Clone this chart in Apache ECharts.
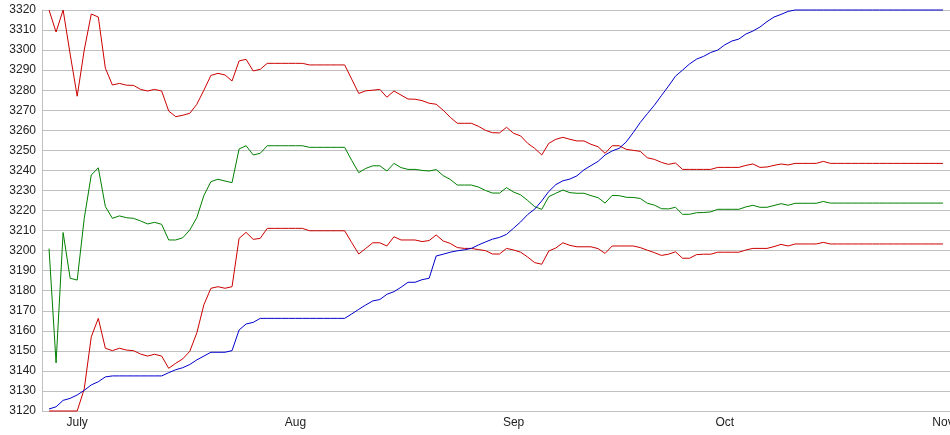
<!DOCTYPE html>
<html>
<head>
<meta charset="utf-8">
<script src="https://cdn.jsdelivr.net/npm/echarts@6/dist/echarts.min.js"></script>
<style>
  html, body { margin: 0; padding: 0; background: #fff; }
  #chart { width: 950px; height: 435px; }
</style>
</head>
<body>
<div id="chart"></div>
<script>
// days counted from July 1 (0); first point is June 27
var firstDay = -4

var monthTicks = [0, 31, 62, 92, 123]
var monthNames = ['July', 'Aug', 'Sep', 'Oct', 'Nov']

var upperRed = [
  3320, 3309, 3320, 3298, 3277, 3300, 3318, 3316.5, 3291, 3282.6,
  3283.4, 3282.5, 3282.4, 3280.4, 3279.6, 3280.4, 3279.6, 3269.6, 3266.8, 3267.5,
  3268.5, 3273, 3280, 3287.4, 3288.4, 3287.6, 3284.6, 3294.6, 3295.4, 3289.6,
  3290.4, 3293.4, 3293.4, 3293.4, 3293.4, 3293.4, 3293.4, 3292.6, 3292.6, 3292.6,
  3292.6, 3292.6, 3292.6, 3285.5, 3278.4, 3279.7, 3280, 3280.4, 3276.5, 3279.6,
  3277.6, 3275.6, 3275.5, 3274.8, 3273.5, 3273, 3270, 3266.5, 3263.5, 3263.5,
  3263.5, 3262, 3260, 3258.8, 3258.7, 3261.5, 3258.5, 3257.2, 3253.5, 3251,
  3247.7, 3253.5, 3255.5, 3256.5, 3255.5, 3254.7, 3254.7, 3253, 3251.8, 3248.5,
  3252.3, 3252.3, 3250.5, 3250, 3249.5, 3246.3, 3245.5, 3244, 3243, 3243.7,
  3240.5, 3240.5, 3240.5, 3240.5, 3240.5, 3241.5, 3241.5, 3241.5, 3241.5, 3242.5,
  3243.2, 3241.5, 3241.7, 3242.5, 3243.2, 3242.7, 3243.5, 3243.5, 3243.5, 3243.5,
  3244.5, 3243.5, 3243.5, 3243.5, 3243.5, 3243.5, 3243.5, 3243.5, 3243.5, 3243.5,
  3243.5, 3243.5, 3243.5, 3243.5, 3243.5, 3243.5, 3243.5, 3243.5
]

var middleGreen = [
  3201, 3144, 3209, 3186.2, 3185.3, 3216, 3237.7, 3241.3, 3222, 3216.1,
  3217.3, 3216.4, 3216.1, 3214.8, 3213.3, 3214.1, 3213.1, 3205.3, 3205.3, 3206.4,
  3210.3, 3216.5, 3227.5, 3234.4, 3235.6, 3234.7, 3233.9, 3250.7, 3252.3, 3247.7,
  3248.5, 3252.3, 3252.3, 3252.3, 3252.3, 3252.3, 3252.3, 3251.5, 3251.5, 3251.5,
  3251.5, 3251.5, 3251.5, 3245, 3238.9, 3241, 3242.3, 3242.3, 3239.7, 3243.5,
  3241.4, 3240.5, 3240.5, 3240, 3239.7, 3240.4, 3237.4, 3235.5, 3232.7, 3232.7,
  3232.7, 3231.7, 3230, 3228.7, 3228.7, 3231.4, 3229.2, 3227.8, 3225, 3221.9,
  3220.6, 3226.9, 3228.6, 3230.2, 3228.9, 3228.6, 3228.6, 3227.4, 3226.4, 3223.7,
  3227.5, 3227.4, 3226.6, 3226.5, 3226, 3223.6, 3222.7, 3220.9, 3220.8, 3221.6,
  3218.1, 3218.1, 3218.9, 3219, 3219.3, 3220.6, 3220.6, 3220.6, 3220.6, 3221.8,
  3222.6, 3221.6, 3221.6, 3222.5, 3223.4, 3222.6, 3223.6, 3223.6, 3223.6, 3223.6,
  3224.5, 3223.7, 3223.7, 3223.7, 3223.7, 3223.7, 3223.7, 3223.7, 3223.7, 3223.7,
  3223.7, 3223.7, 3223.7, 3223.7, 3223.7, 3223.7, 3223.7, 3223.7
]

var lowerRed = [
  3120, 3120, 3120, 3120, 3120, 3131, 3157, 3166.2, 3151.3, 3150.1,
  3151.3, 3150.4, 3150.1, 3148.4, 3147.4, 3148.3, 3147.4, 3141.3, 3143.8, 3146,
  3149.8, 3159, 3173, 3181.2, 3182, 3181.2, 3182, 3206.1, 3209.1, 3205.6,
  3206.1, 3211.1, 3211.1, 3211.1, 3211.1, 3211.1, 3211.1, 3209.9, 3209.9, 3209.9,
  3209.9, 3209.9, 3209.9, 3204, 3198.3, 3201.1, 3203.9, 3203.9, 3202.3, 3206.9,
  3205.3, 3205.3, 3205.3, 3204.5, 3205, 3207.8, 3204.8, 3203.6, 3201.5, 3201.1,
  3201.1, 3200.5, 3200, 3198.3, 3198.3, 3201.1, 3200.3, 3199.2, 3196.8, 3194,
  3193.2, 3199.8, 3201.3, 3203.9, 3202.6, 3201.9, 3201.9, 3201.9, 3201, 3198.6,
  3202.3, 3202.3, 3202.3, 3202.3, 3201.5, 3200.2, 3199, 3197.6, 3198.2, 3199.4,
  3196.2, 3196.2, 3198, 3198.2, 3198.2, 3199.2, 3199.2, 3199.2, 3199.2, 3200.3,
  3201.1, 3201.1, 3201.1, 3202, 3203.1, 3202.3, 3203.3, 3203.3, 3203.3, 3203.3,
  3204.1, 3203.3, 3203.3, 3203.3, 3203.3, 3203.3, 3203.3, 3203.3, 3203.3, 3203.3,
  3203.3, 3203.3, 3203.3, 3203.3, 3203.3, 3203.3, 3203.3, 3203.3
]

var blueLine = [
  3121, 3122.1, 3125.3, 3126.3, 3128, 3130.3, 3133, 3134.6, 3137, 3137.5,
  3137.5, 3137.5, 3137.5, 3137.5, 3137.5, 3137.5, 3137.5, 3139.1, 3140.6, 3141.6,
  3143.2, 3145.5, 3147.4, 3149.3, 3149.3, 3149.3, 3150.1, 3160.4, 3163.4, 3164.2,
  3166.2, 3166.2, 3166.2, 3166.2, 3166.2, 3166.2, 3166.2, 3166.2, 3166.2, 3166.2,
  3166.2, 3166.2, 3166.2, 3168.4, 3170.7, 3172.9, 3174.9, 3175.6, 3178.2, 3179.5,
  3181.7, 3184.2, 3184.2, 3185.5, 3186.2, 3197.3, 3198.2, 3199.2, 3199.9, 3200.4,
  3201.1, 3202.8, 3204.3, 3205.7, 3206.6, 3208.1, 3211.2, 3214.3, 3218, 3220.7,
  3224.8, 3229.5, 3232.9, 3234.8, 3235.7, 3237.3, 3240.3, 3242.4, 3244.5, 3247.7,
  3249.7, 3251, 3254.2, 3258.9, 3263.9, 3268.3, 3272.5, 3277.3, 3282, 3287,
  3290, 3293.1, 3295.5, 3296.9, 3298.8, 3300, 3302.6, 3304.5, 3305.5, 3308,
  3309.5, 3311.5, 3314.2, 3316.5, 3317.8, 3319.3, 3320, 3320, 3320, 3320,
  3320, 3320, 3320, 3320, 3320, 3320, 3320, 3320, 3320, 3320,
  3320, 3320, 3320, 3320, 3320, 3320, 3320, 3320
]

function toPoints (values) {
  return values.map(function (v, i) {
    return [firstDay + i, v]
  })
}

function lineSeries (name, values, color) {
  return {
    name: name,
    type: 'line',
    data: toPoints(values),
    symbol: 'none',
    clip: false,
    animation: false,
    lineStyle: { color: color, width: 1 }
  }
}

var chart = echarts.init(document.getElementById('chart'), null, { renderer: 'canvas' })

chart.setOption({
  animation: false,
  backgroundColor: '#fff',
  textStyle: { fontFamily: 'Liberation Sans, Arial, sans-serif' },
  grid: {
    left: 42,
    right: 0,
    top: 10,
    bottom: 24,
    containLabel: false,
    outerBoundsMode: 'none'
  },
  xAxis: {
    type: 'value',
    min: -5,
    max: 124,
    interval: 1,
    splitLine: { show: false },
    axisLine: { show: false },
    axisTick: { show: false },
    axisLabel: {
      customValues: monthTicks,
      margin: 6,
      color: '#222',
      fontSize: 12,
      formatter: function (val) {
        var i = monthTicks.indexOf(val)
        return i >= 0 ? monthNames[i] : ''
      }
    }
  },
  yAxis: {
    type: 'value',
    min: 3120,
    max: 3320,
    interval: 10,
    axisLine: { show: true, onZero: false, lineStyle: { color: '#c0c0c0', width: 1 } },
    axisTick: { show: false },
    splitLine: { lineStyle: { color: '#c0c0c0', width: 1 } },
    axisLabel: {
      margin: 6,
      color: '#222',
      fontSize: 12,
      formatter: function (val) {
        return String(val)
      }
    }
  },
  series: [
    lineSeries('upper', upperRed, '#cc0000'),
    lineSeries('middle', middleGreen, '#008000'),
    lineSeries('lower', lowerRed, '#cc0000'),
    lineSeries('blue', blueLine, '#0000cc')
  ]
})

window.addEventListener('resize', function () {
  chart.resize()
})
</script>
</body>
</html>
